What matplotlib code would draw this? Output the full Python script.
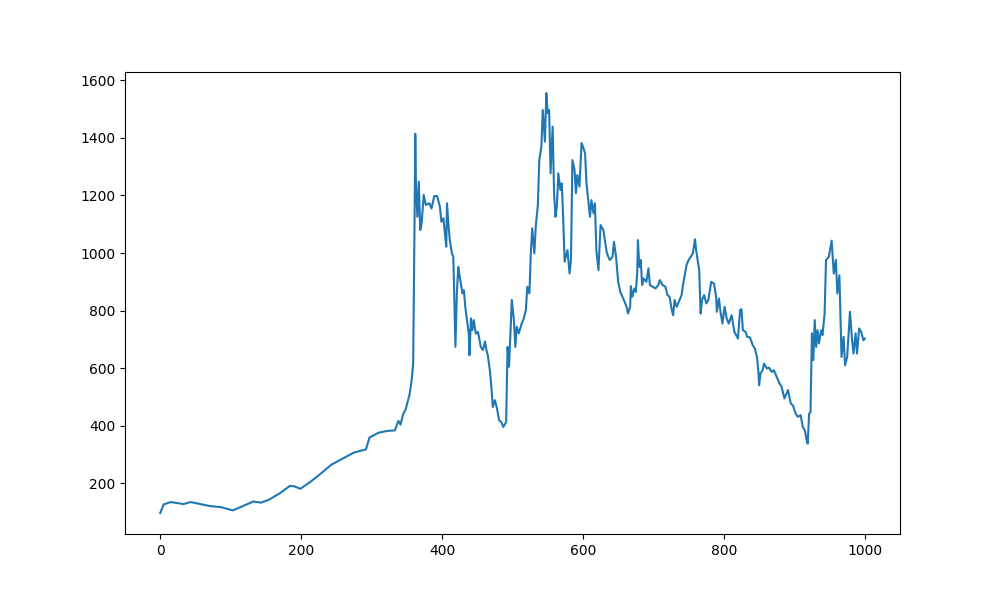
import matplotlib
matplotlib.use("Agg")
import matplotlib.pyplot as plt

# values (day index, price)
days = [0, 5, 15, 33, 43, 71, 87, 103, 123, 132, 143, 155, 170, 184, 190, 199,
        213, 229, 243, 265, 275, 292, 297, 310, 322, 333, 338, 341, 345, 348,
        354, 357, 359, 361, 362, 363, 365, 367, 369, 371, 374, 377, 382, 385,
        389, 393, 397, 399, 402, 404, 406, 407, 409, 411, 414, 416, 419, 421,
        423, 425, 429, 431, 433, 436, 438, 439, 441, 443, 445, 448, 451, 455,
        458, 461, 463, 465, 468, 470, 472, 475, 478, 481, 484, 487, 491, 493,
        495, 497, 499, 502, 504, 506, 509, 513, 516, 519, 521, 524, 526, 528,
        531, 533, 536, 538, 541, 543, 546, 548, 550, 552, 554, 557, 559, 561,
        563, 565, 568, 570, 572, 574, 578, 581, 583, 585, 588, 590, 592, 595,
        598, 600, 603, 605, 607, 610, 612, 615, 617, 619, 622, 625, 629, 631,
        634, 638, 642, 644, 647, 650, 653, 656, 658, 662, 664, 667, 668, 670,
        673, 675, 677, 678, 680, 682, 684, 686, 690, 693, 695, 699, 703, 707,
        709, 713, 717, 720, 723, 726, 728, 730, 733, 737, 740, 742, 747, 750,
        753, 756, 759, 761, 765, 767, 769, 772, 775, 778, 782, 786, 789, 790,
        793, 795, 798, 801, 804, 807, 811, 815, 820, 823, 825, 827, 831, 833,
        837, 841, 844, 847, 849, 850, 852, 855, 857, 861, 864, 868, 871, 875,
        879, 882, 886, 891, 895, 898, 902, 905, 909, 912, 915, 917, 919, 921,
        923, 925, 927, 929, 931, 933, 935, 938, 940, 943, 945, 949, 953, 956,
        959, 961, 964, 967, 970, 972, 975, 979, 982, 984, 987, 989, 992, 995,
        998, 1000]

prices = [97, 127, 135, 128, 135, 121, 117, 106, 127, 137, 133, 144, 166, 191, 190, 181,
          205, 236, 265, 294, 307, 318, 359, 376, 382, 384, 417, 404, 442, 454,
          510, 560, 616, 1115, 1414, 1231, 1126, 1248, 1080, 1103, 1202, 1167, 1173, 1155,
          1198, 1198, 1161, 1109, 1121, 1069, 1022, 1173, 1103, 1045, 999, 987, 674, 860,
          952, 918, 860, 871, 813, 755, 720, 645, 773, 732, 767, 720, 726, 674,
          663, 693, 663, 645, 590, 535, 465, 489, 460, 419, 413, 396, 413, 674,
          605, 715, 837, 767, 674, 744, 721, 755, 773, 802, 883, 860, 999, 1086,
          999, 1092, 1167, 1323, 1370, 1497, 1387, 1556, 1486, 1497, 1277, 1439, 1208, 1126,
          1161, 1277, 1219, 1242, 1115, 970, 1010, 929, 976, 1323, 1289, 1208, 1271, 1231,
          1382, 1370, 1347, 1242, 1196, 1126, 1184, 1138, 1173, 1010, 941, 1097, 1080, 1045,
          999, 976, 987, 1039, 987, 900, 865, 848, 837, 813, 790, 813, 885, 848,
          877, 865, 929, 1045, 952, 976, 889, 912, 900, 947, 889, 883, 877, 889,
          906, 889, 883, 854, 848, 802, 784, 837, 813, 837, 854, 889, 958, 976,
          987, 999, 1048, 1004, 941, 790, 837, 854, 825, 837, 900, 894, 848, 796,
          842, 800, 755, 813, 773, 755, 784, 726, 703, 802, 805, 732, 726, 709,
          707, 680, 668, 639, 587, 541, 582, 593, 616, 599, 602, 587, 593, 570,
          547, 535, 495, 524, 477, 471, 442, 431, 437, 396, 384, 355, 338, 442,
          448, 721, 628, 767, 674, 732, 686, 732, 715, 790, 976, 987, 1043, 929,
          976, 860, 923, 639, 709, 610, 639, 796, 697, 651, 721, 651, 738, 726,
          697, 703]

fig = plt.figure(figsize=(10, 6), dpi=100)
plt.plot(days, prices)
plt.savefig("out.png")
